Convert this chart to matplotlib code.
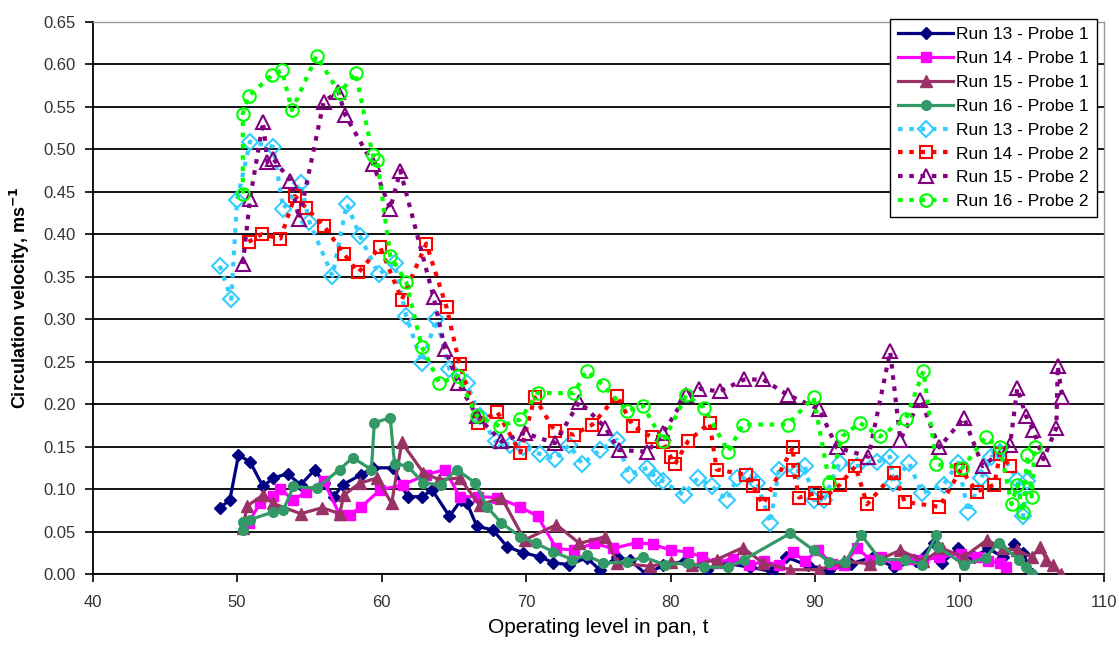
import matplotlib
matplotlib.use("Agg")
import matplotlib.pyplot as plt

plt.rcParams['font.family'] = ['Liberation Sans', 'DejaVu Sans']

# ---------------- data ----------------
x_r13p1 = [48.8, 49.5, 50.1, 50.9, 51.8, 52.5, 53.5, 54.4, 55.4, 56.0, 56.7, 57.3, 58.6, 59.4, 60.8,
           61.8, 62.8, 63.5, 64.7, 65.5, 65.9, 66.6, 67.7, 68.7, 69.8, 71.0, 71.9, 73.0, 74.2, 75.1,
           76.3, 77.2, 78.3, 79.5, 81.0, 82.5, 84.0, 85.5, 87.0, 88.0, 89.5, 91.0, 92.5, 94.0, 95.5,
           97.0, 98.2, 98.8, 99.9, 101.0, 102.0, 103.0, 103.8, 104.4, 105.0]
y_r13p1 = [0.078, 0.087, 0.140, 0.132, 0.103, 0.113, 0.118, 0.105, 0.123, 0.107, 0.091, 0.105, 0.117, 0.125, 0.125,
           0.091, 0.091, 0.099, 0.068, 0.087, 0.084, 0.056, 0.052, 0.032, 0.025, 0.020, 0.013, 0.011, 0.019, 0.005,
           0.020, 0.016, 0.000, 0.010, 0.015, 0.005, 0.012, 0.008, 0.003, 0.020, 0.010, 0.005, 0.012, 0.020, 0.008,
           0.015, 0.036, 0.013, 0.030, 0.020, 0.030, 0.020, 0.035, 0.025, 0.000]

x_r14p1 = [50.8, 51.6, 52.5, 53.0, 53.9, 54.8, 56.0, 57.1, 57.8, 58.6, 59.9, 61.5, 63.1, 64.4, 65.4,
           66.7, 68.0, 69.6, 70.8, 72.1, 73.3, 74.7, 76.0, 77.7, 78.8, 80.0, 81.2, 82.2, 83.2, 84.3,
           85.4, 86.5, 87.5, 88.5, 89.3, 90.2, 91.2, 92.0, 92.9, 93.8, 94.6, 95.6, 96.6, 97.5, 98.6,
           100.1, 101.2, 102.0, 102.8, 103.2]
y_r14p1 = [0.060, 0.084, 0.092, 0.100, 0.087, 0.097, 0.109, 0.070, 0.070, 0.079, 0.099, 0.105, 0.117, 0.123, 0.091,
           0.091, 0.090, 0.079, 0.068, 0.030, 0.028, 0.036, 0.030, 0.037, 0.035, 0.028, 0.026, 0.020, 0.013, 0.018,
           0.010, 0.015, 0.010, 0.026, 0.015, 0.028, 0.012, 0.010, 0.031, 0.017, 0.020, 0.012, 0.018, 0.016, 0.020,
           0.024, 0.020, 0.015, 0.013, 0.008]

x_r15p1 = [50.4, 50.7, 51.8, 52.5, 54.4, 55.9, 57.1, 57.4, 58.5, 59.7, 60.7, 61.4, 62.9, 64.0, 65.4,
           66.8, 68.3, 69.9, 72.1, 73.7, 75.5, 76.3, 78.6, 80.0, 81.5, 83.2, 85.0, 86.4, 88.3, 90.3,
           92.0, 93.8, 95.9, 97.5, 98.8, 100.3, 101.9, 103.0, 104.0, 105.0, 105.6, 106.0, 106.5, 107.0]
y_r15p1 = [0.054, 0.080, 0.093, 0.083, 0.071, 0.078, 0.071, 0.093, 0.107, 0.113, 0.083, 0.155, 0.119, 0.111, 0.113,
           0.081, 0.090, 0.040, 0.058, 0.036, 0.044, 0.013, 0.009, 0.014, 0.010, 0.017, 0.031, 0.013, 0.005, 0.005,
           0.015, 0.012, 0.028, 0.015, 0.030, 0.020, 0.040, 0.030, 0.028, 0.020, 0.032, 0.017, 0.010, 0.000]

x_r16p1 = [50.4, 50.4, 50.9, 52.5, 53.2, 53.9, 55.5, 57.1, 58.0, 59.3, 59.5, 60.6, 60.9, 61.8, 62.9,
           64.1, 65.2, 66.5, 67.3, 68.3, 69.6, 70.7, 71.9, 73.2, 74.2, 75.3, 77.0, 78.1, 79.6, 81.2,
           82.3, 84.0, 85.1, 88.3, 89.9, 91.0, 92.1, 93.2, 94.5, 96.2, 97.4, 98.4, 98.5, 100.3, 101.8,
           102.7, 104.1, 104.6, 105.0]
y_r16p1 = [0.052, 0.061, 0.064, 0.073, 0.075, 0.103, 0.101, 0.123, 0.137, 0.123, 0.178, 0.184, 0.130, 0.127, 0.107,
           0.105, 0.123, 0.107, 0.079, 0.060, 0.044, 0.036, 0.026, 0.017, 0.022, 0.013, 0.014, 0.020, 0.011, 0.013,
           0.008, 0.008, 0.017, 0.048, 0.028, 0.014, 0.014, 0.046, 0.017, 0.017, 0.011, 0.046, 0.032, 0.011, 0.019,
           0.037, 0.017, 0.008, 0.000]

x_r13p2 = [48.8, 49.6, 50.0, 50.9, 52.5, 53.2, 54.4, 55.0, 56.6, 57.6, 58.5, 59.8, 60.9, 61.7, 62.8,
           63.8, 64.7, 65.9, 66.8, 67.9, 68.9, 69.8, 71.0, 72.0, 73.0, 73.9, 75.1, 76.3, 77.1, 78.4,
           79.0, 79.5, 80.9, 81.9, 82.9, 83.9, 84.6, 85.5, 86.0, 86.9, 87.5, 88.8, 89.3, 89.9, 90.6,
           91.7, 92.9, 94.3, 95.2, 95.4, 96.5, 97.4, 98.9, 99.9, 100.6, 101.5, 102.2, 102.8, 104.0, 104.4,
           104.7]
y_r13p2 = [0.363, 0.324, 0.440, 0.509, 0.503, 0.430, 0.460, 0.415, 0.351, 0.436, 0.398, 0.353, 0.366, 0.304, 0.249,
           0.300, 0.241, 0.225, 0.186, 0.156, 0.152, 0.150, 0.141, 0.135, 0.152, 0.129, 0.146, 0.158, 0.117, 0.125,
           0.113, 0.109, 0.093, 0.113, 0.103, 0.087, 0.113, 0.115, 0.107, 0.060, 0.123, 0.121, 0.127, 0.087, 0.087,
           0.131, 0.127, 0.132, 0.138, 0.107, 0.131, 0.095, 0.105, 0.131, 0.073, 0.113, 0.138, 0.144, 0.111, 0.068,
           0.109]

x_r14p2 = [50.8, 51.7, 53.0, 54.0, 54.8, 56.0, 57.4, 58.4, 59.9, 61.4, 63.1, 64.5, 65.4, 66.7, 68.0,
           69.6, 70.6, 72.0, 73.3, 74.6, 76.3, 77.4, 78.7, 79.5, 80.0, 80.3, 81.2, 82.7, 83.2, 85.2,
           85.7, 86.4, 88.5, 88.5, 88.9, 90.0, 90.6, 91.7, 92.8, 93.6, 95.5, 96.2, 98.6, 100.1, 101.2,
           102.4, 102.8, 103.5]
y_r14p2 = [0.391, 0.400, 0.395, 0.445, 0.431, 0.410, 0.377, 0.355, 0.385, 0.323, 0.389, 0.314, 0.247, 0.178, 0.191,
           0.143, 0.208, 0.168, 0.164, 0.176, 0.210, 0.174, 0.161, 0.155, 0.138, 0.129, 0.156, 0.178, 0.123, 0.117,
           0.103, 0.082, 0.150, 0.123, 0.090, 0.095, 0.089, 0.105, 0.127, 0.082, 0.119, 0.085, 0.079, 0.123, 0.097,
           0.105, 0.141, 0.127]

x_r15p2 = [50.4, 50.9, 51.8, 52.1, 52.5, 53.7, 54.3, 56.0, 57.0, 57.5, 59.4, 60.6, 61.3, 63.6, 64.4,
           65.3, 66.6, 68.3, 69.9, 72.0, 73.7, 75.5, 76.4, 78.4, 79.5, 81.1, 82.0, 83.4, 85.1, 86.4,
           88.1, 90.3, 91.5, 93.7, 95.2, 95.9, 97.3, 98.6, 100.3, 101.6, 103.5, 104.0, 104.6, 105.1, 105.8,
           106.7, 106.8, 107.1]
y_r15p2 = [0.365, 0.442, 0.532, 0.485, 0.489, 0.463, 0.418, 0.556, 0.568, 0.540, 0.483, 0.430, 0.475, 0.326, 0.265,
           0.225, 0.186, 0.156, 0.166, 0.154, 0.203, 0.172, 0.146, 0.144, 0.166, 0.211, 0.218, 0.215, 0.229, 0.229,
           0.211, 0.194, 0.149, 0.138, 0.262, 0.158, 0.205, 0.149, 0.184, 0.127, 0.152, 0.219, 0.186, 0.170, 0.135,
           0.172, 0.245, 0.208]

x_r16p2 = [50.4, 50.4, 50.8, 52.4, 53.1, 53.8, 55.5, 57.1, 58.2, 59.4, 59.7, 60.6, 61.7, 62.8, 64.0,
           65.3, 66.6, 68.2, 69.6, 70.8, 73.3, 74.2, 75.3, 77.0, 78.1, 79.5, 81.1, 82.3, 84.0, 85.0,
           88.1, 89.9, 91.0, 91.9, 93.1, 94.5, 96.3, 97.5, 98.4, 100.2, 101.8, 102.8, 103.6, 104.0, 104.4,
           104.7, 105.0, 105.2]
y_r16p2 = [0.448, 0.542, 0.563, 0.587, 0.593, 0.546, 0.610, 0.566, 0.590, 0.493, 0.487, 0.375, 0.344, 0.267, 0.225,
           0.233, 0.186, 0.174, 0.182, 0.213, 0.213, 0.239, 0.223, 0.192, 0.198, 0.156, 0.211, 0.196, 0.144, 0.176,
           0.176, 0.208, 0.107, 0.162, 0.178, 0.162, 0.183, 0.239, 0.129, 0.125, 0.161, 0.149, 0.082, 0.105, 0.073,
           0.140, 0.091, 0.150]

labels = ["Run 13 - Probe 1", "Run 14 - Probe 1", "Run 15 - Probe 1", "Run 16 - Probe 1",
          "Run 13 - Probe 2", "Run 14 - Probe 2", "Run 15 - Probe 2", "Run 16 - Probe 2"]
x_ticks = [40, 50, 60, 70, 80, 90, 100, 110]
y_ticks = [0.00, 0.05, 0.10, 0.15, 0.20, 0.25, 0.30, 0.35, 0.40, 0.45, 0.50, 0.55, 0.60, 0.65]

# ---------------- figure ----------------
fig = plt.figure(figsize=(11.19, 6.46), dpi=100)
ax = fig.add_axes([0.0827, 0.1115, 0.9039, 0.8545])

probe1 = [
    (x_r13p1, y_r13p1, '#000080', 'D', 6),
    (x_r14p1, y_r14p1, '#FF00FF', 's', 7),
    (x_r15p1, y_r15p1, '#993366', '^', 8),
    (x_r16p1, y_r16p1, '#339966', 'o', 7),
]
probe2 = [
    (x_r13p2, y_r13p2, '#33CCFF', 'D', 8),
    (x_r14p2, y_r14p2, '#FF0000', 's', 9),
    (x_r15p2, y_r15p2, '#800080', '^', 10),
    (x_r16p2, y_r16p2, '#00FF00', 'o', 9),
]

handles = []
for i, (xs, ys, c, m, ms) in enumerate(probe1):
    h, = ax.plot(xs, ys, color=c, lw=2.3, marker=m, ms=ms, mfc=c, mec=c, label=labels[i], zorder=3)
    handles.append(h)
for i, (xs, ys, c, m, ms) in enumerate(probe2):
    h, = ax.plot(xs, ys, color=c, lw=3.0, ls=(0, (1.1, 1.6)), marker=m, ms=ms, mfc='none', mec=c,
                 mew=1.5, label=labels[4 + i], zorder=4)
    handles.append(h)

ax.set_xlim(40, 110)
ax.set_ylim(0, 0.65)
ax.set_xticks(x_ticks)
ax.set_yticks(y_ticks)
ax.set_yticklabels([f"{v:.2f}" for v in y_ticks])
ax.yaxis.grid(True, color='black', lw=1.3, zorder=1)
ax.set_axisbelow(True)
ax.tick_params(axis='both', direction='out', length=6, width=1.2, labelsize=12, labelcolor='#333333')
ax.tick_params(axis='x', pad=9)
ax.tick_params(axis='y', pad=6)

for s in ['left', 'bottom']:
    ax.spines[s].set_color('black')
    ax.spines[s].set_linewidth(1.3)
for s in ['top', 'right']:
    ax.spines[s].set_color('#999999')
    ax.spines[s].set_linewidth(1.0)

ax.set_xlabel("Operating level in pan, t", fontsize=15, labelpad=6)
ax.set_ylabel("Circulation velocity, ms$^{\\mathbf{-1}}$", fontsize=13, fontweight='bold', labelpad=8)

leg = ax.legend(handles=handles, loc='upper right', bbox_to_anchor=(0.980, 0.970),
                bbox_transform=fig.transFigure, fontsize=12.5, frameon=True, fancybox=False,
                edgecolor='black', framealpha=1, handlelength=3.2, handletextpad=0.15,
                labelspacing=0.5, borderpad=0.45, borderaxespad=0)
leg.get_frame().set_linewidth(1.0)

fig.savefig("out.png", dpi=100)
